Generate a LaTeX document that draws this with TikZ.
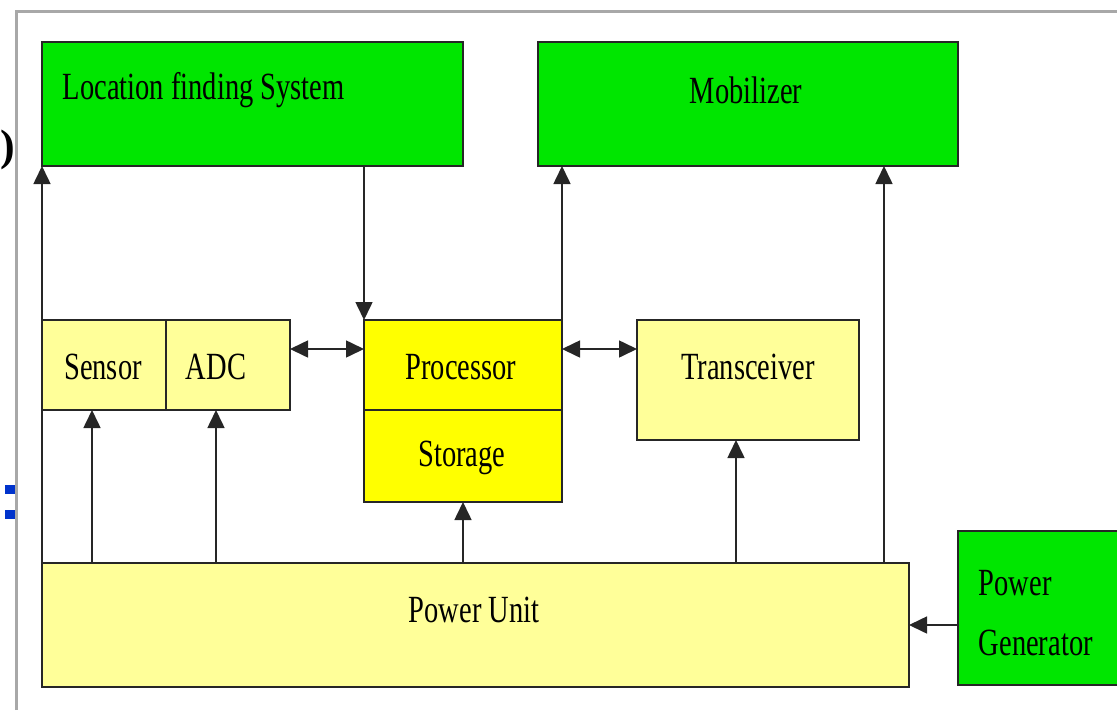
\documentclass[tikz,border=0pt]{standalone}
\usepackage{fontspec}
\setmainfont{Liberation Serif}
\usetikzlibrary{arrows.meta,positioning}
\definecolor{boxgreen}{HTML}{00E600}
\definecolor{paleyellow}{HTML}{FFFF99}
\definecolor{brightyellow}{HTML}{FFFF00}
\definecolor{framegray}{HTML}{A8A8A8}
\definecolor{colonblue}{HTML}{0033CC}
\newcommand{\tallText}[1]{\scalebox{1}[1.35]{#1}}

\begin{document}
\begin{tikzpicture}[x=1pt, y=-1pt, >={Triangle[length=18pt,width=17pt]}, line width=1.6pt,
  blk/.style={draw=black!85, line width=2pt, anchor=north west, inner sep=0pt, outer sep=0pt},
  lbl/.style={font=\fontsize{28.5}{30}\selectfont, inner sep=0pt},
  link/.style={draw=black!85}]
  \useasboundingbox (0,0) rectangle (1117,710);
  % screenshot frame and cut-off characters
  \draw[framegray, line width=3pt] (16,710) -- (16,11) -- (1117,11);
  \node[font=\fontsize{44}{44}\selectfont\bfseries, anchor=east, inner sep=0pt] (paren) at (16,150) {)};
  \fill[colonblue] (5,485) rectangle (15,494);
  \fill[colonblue] (5,510) rectangle (15,519);

  % blocks
  \node[blk, fill=boxgreen, minimum width=421pt, minimum height=124pt] (loc) at (42,42) {};
  \node[blk, fill=boxgreen, minimum width=420pt, minimum height=124pt] (mob) at (538,42) {};
  \node[blk, fill=paleyellow, minimum width=124pt, minimum height=90pt] (sensor) at (42,320) {};
  \node[blk, fill=paleyellow, minimum width=124pt, minimum height=90pt] (adc) at (166,320) {};
  \node[blk, fill=brightyellow, minimum width=198pt, minimum height=90pt] (proc) at (364,320) {};
  \node[blk, fill=brightyellow, minimum width=198pt, minimum height=92pt] (store) at (364,410) {};
  \node[blk, fill=paleyellow, minimum width=222pt, minimum height=120pt] (tx) at (637,320) {};
  \node[blk, fill=paleyellow, minimum width=867pt, minimum height=124pt] (pwr) at (42,563) {};
  \node[blk, fill=boxgreen, minimum width=172pt, minimum height=154pt] (gen) at (958,531) {};

  % labels
  \node[lbl, anchor=west] (loctxt) at (62,90) {\tallText{Location finding System}};
  \node[lbl] (mobtxt) at (746,90) {\tallText{Mobilizer}};
  \node[lbl] (sensortxt) at (103,367) {\tallText{Sensor}};
  \node[lbl] (adctxt) at (216,367) {\tallText{ADC}};
  \node[lbl] (proctxt) at (461,367) {\tallText{Processor}};
  \node[lbl] (storetxt) at (462,458) {\tallText{Storage}};
  \node[lbl] (txtxt) at (748,367) {\tallText{Transceiver}};
  \node[lbl] (pwrtxt) at (474,610) {\tallText{Power Unit}};
  \node[lbl, anchor=west] (gentxt1) at (978,583) {\tallText{Power}};
  \node[lbl, anchor=west] (gentxt2) at (978,643) {\tallText{Generator}};

  % connection points
  \coordinate (sensin) at (92,410);
  \coordinate (adcin) at (216,410);
  \coordinate (txin) at (736,440);
  \coordinate (mobin) at (884,166);
  \coordinate (busy) at (0,349);

  % connectors
  \draw[link, ->] (pwr.north west) -- (loc.south west);
  \draw[link, ->] (proc.north west |- loc.south) -- (proc.north west);
  \draw[link, ->] (proc.north east) -- (proc.north east |- mob.south);
  \draw[link, ->] (mobin |- pwr.north) -- (mobin);
  \draw[link, ->] (sensin |- pwr.north) -- (sensin);
  \draw[link, ->] (adcin |- pwr.north) -- (adcin);
  \draw[link, ->] (store.south |- pwr.north) -- (store.south);
  \draw[link, ->] (txin |- pwr.north) -- (txin);
  \draw[link, <->] (adc.east |- busy) -- (proc.west |- busy);
  \draw[link, <->] (proc.east |- busy) -- (tx.west |- busy);
  \draw[link, ->] (gen.west |- pwr.east) -- (pwr.east);
\end{tikzpicture}
\end{document}
